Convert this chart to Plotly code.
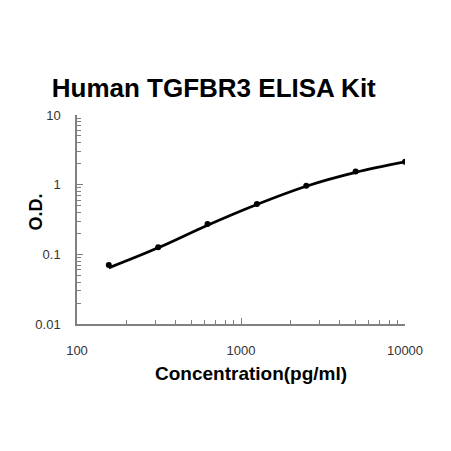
import plotly.graph_objects as go

conc = [156.25, 312.5, 625, 1250, 2500, 5000, 10000]
od = [0.0705, 0.126, 0.273, 0.528, 0.968, 1.54, 2.14]
fit_conc = [156.25, 312.5, 625, 1250, 2500, 5000, 10000]
fit_od = [0.064, 0.124, 0.262, 0.52, 0.95, 1.5, 2.12]

minor_x = [m * 10 ** e for e in (2, 3) for m in range(2, 10)]
minor_y = [m * 10 ** e for e in (-2, -1, 0) for m in range(2, 10)]

fig = go.Figure()
fig.add_trace(go.Scatter(x=fit_conc, y=fit_od, mode="lines",
                         line=dict(color="black", width=2.8, shape="spline"),
                         hoverinfo="skip"))
fig.add_trace(go.Scatter(x=conc, y=od, mode="markers",
                         marker=dict(color="black", size=6)))

axis_font = dict(family="Liberation Sans, Arial", size=13, color="#333")
label_font = dict(family="Liberation Sans, Arial", size=19, color="black")
fig.update_layout(
    width=451, height=451,
    margin=dict(l=77, r=46, t=115, b=127),
    paper_bgcolor="white", plot_bgcolor="white",
    showlegend=False,
    title=dict(text="<b>Human TGFBR3 ELISA Kit</b>",
               font=dict(family="Liberation Sans, Arial", size=26, color="black"),
               x=0.474, xanchor="center", xref="container",
               y=1 - 88 / 451, yanchor="middle", yref="container"),
    xaxis=dict(type="log", range=[2, 4], showgrid=False, zeroline=False,
               showline=True, linecolor="#808080", linewidth=1.5,
               ticks="inside", ticklen=6, tickcolor="#808080",
               tickvals=[100, 1000, 10000], ticktext=["100", "1000", "10000"],
               tickfont=axis_font, ticklabelstandoff=14,
               minor=dict(ticks="inside", ticklen=4, tickcolor="#808080", tickvals=minor_x, showgrid=False)),
    yaxis=dict(type="log", range=[-2, 1], showgrid=False, zeroline=False,
               showline=True, linecolor="#808080", linewidth=1.5,
               ticks="inside", ticklen=6, tickcolor="#808080",
               tickvals=[0.01, 0.1, 1, 10], ticktext=["0.01", "0.1", "1", "10"],
               tickfont=axis_font, ticklabelstandoff=12,
               minor=dict(ticks="inside", ticklen=4, tickcolor="#808080", tickvals=minor_y, showgrid=False)),
    annotations=[
        dict(text="<b>O.D.</b>", textangle=-90, showarrow=False,
             xref="paper", yref="paper", x=(35 - 77) / 328, y=(324 - 212.5) / 209,
             xanchor="center", yanchor="middle",
             font=dict(family="Liberation Sans, Arial", size=18, color="black")),
        dict(text="<b>Concentration(pg/ml)</b>", showarrow=False,
             xref="paper", yref="paper", x=(251 - 77) / 328, y=(324 - 373) / 209,
             xanchor="center", yanchor="middle", font=label_font),
    ],
)
fig.write_html("out.html")
